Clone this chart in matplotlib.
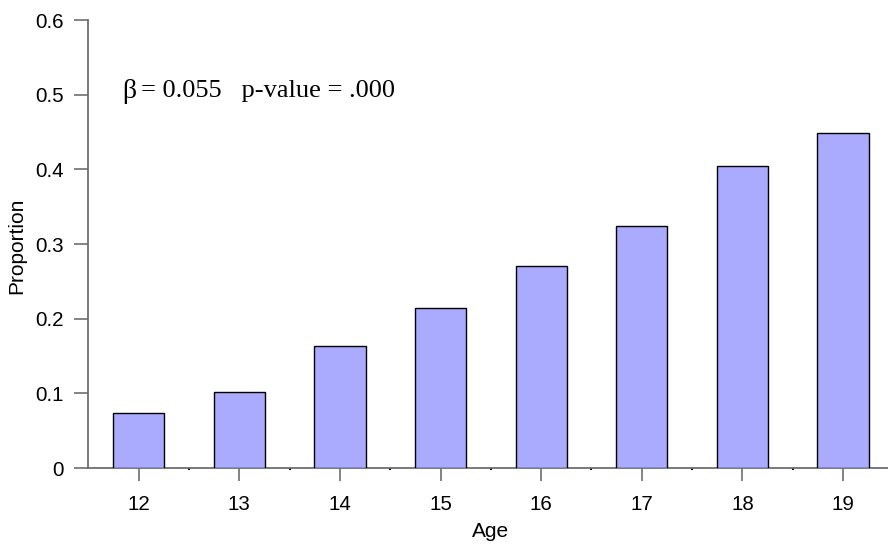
import matplotlib
matplotlib.use("Agg")
import matplotlib.pyplot as plt
from matplotlib.ticker import FixedLocator

# Proportion by age
ages = [12, 13, 14, 15, 16, 17, 18, 19]
proportions = [0.073, 0.102, 0.163, 0.214, 0.270, 0.324, 0.404, 0.449]
y_ticks = [0, 0.1, 0.2, 0.3, 0.4, 0.5, 0.6]
y_tick_labels = ["0", "0.1", "0.2", "0.3", "0.4", "0.5", "0.6"]
beta_text = "\u03b2"
stats_text = "= 0.055   p-value = .000"

W, H = 888, 551
fig = plt.figure(figsize=(W / 100, H / 100), dpi=100)
ax_left, ax_right = 87.5 / W, 1.0
ax_bottom, ax_top = (H - 468) / H, (H - 20) / H
ax = fig.add_axes([ax_left, ax_bottom, ax_right - ax_left, ax_top - ax_bottom])

bar_color = "#aaaaff"
ax.bar(ages, proportions, width=0.51, color=bar_color, edgecolor="black",
       linewidth=1.0, zorder=3)

ax.set_xlim(11.491, 19.447)
ax.set_ylim(0, 0.6)

spine_color = "#6e6e6e"
for side in ("top", "right"):
    ax.spines[side].set_visible(False)
for side in ("left", "bottom"):
    ax.spines[side].set_color(spine_color)
    ax.spines[side].set_linewidth(1.3)
ax.spines["bottom"].set_zorder(2)

sans = ["Liberation Sans", "DejaVu Sans"]
serif = ["Liberation Serif", "DejaVu Serif"]

ax.set_yticks(y_ticks)
ax.set_yticklabels(y_tick_labels, fontfamily=sans, fontsize=14.8)
ax.set_xticks(ages)
ax.set_xticklabels([str(a) for a in ages], fontfamily=sans, fontsize=14.8)
ax.xaxis.set_minor_locator(FixedLocator([a + 0.5 for a in ages[:-1]]))

ax.tick_params(axis="y", direction="out", length=10, width=1.2,
               color=spine_color, pad=7)
ax.tick_params(axis="x", which="major", direction="out", length=9.5,
               width=1.2, color=spine_color, pad=10)
ax.tick_params(axis="x", which="minor", direction="out", length=1.5,
               width=1.5, color="black")

fig.text(16.5 / W, 1 - 246 / H, "Proportion", rotation=90, ha="center",
         va="center", fontfamily=sans, fontsize=15)
fig.text(491 / W, 1 - 537 / H, "Age", ha="center", va="baseline",
         fontfamily=sans, fontsize=15)

fig.text(122.5 / W, 1 - 97.5 / H, beta_text, ha="left", va="baseline",
         fontfamily=serif, fontsize=20)
fig.text(141 / W, 1 - 97.5 / H, stats_text, ha="left", va="baseline",
         fontfamily=serif, fontsize=19)

fig.savefig("out.png", dpi=100)
